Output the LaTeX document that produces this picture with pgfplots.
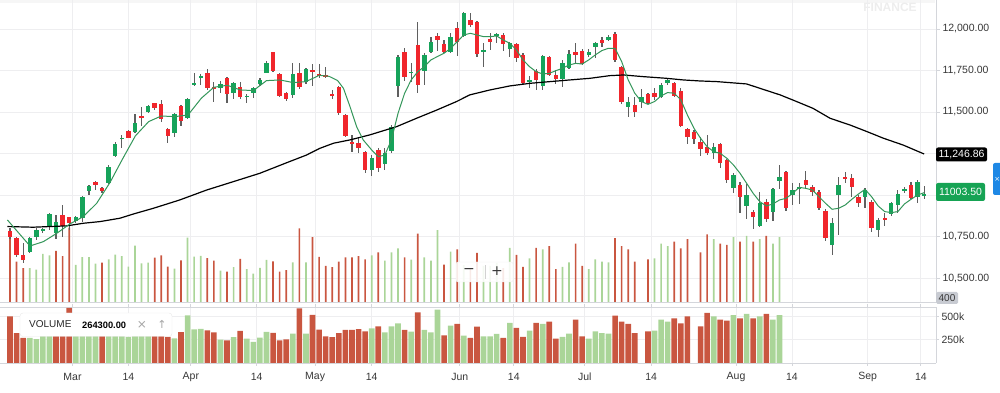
\documentclass[border=0pt]{standalone}
\usepackage{pgfplots}
\pgfplotsset{compat=1.18}
\usepackage{pgfplotstable}
\usepackage{fontspec}
\setmainfont{Liberation Sans}
\newfontfamily\dejavu{DejaVu Sans}
\definecolor{upc}{RGB}{22,163,90}
\definecolor{dnc}{RGB}{240,38,44}
\definecolor{wick}{RGB}{95,95,95}
\definecolor{volr}{RGB}{201,86,64}
\definecolor{volg}{RGB}{170,213,152}
\definecolor{mag}{RGB}{52,150,90}
\definecolor{gridc}{RGB}{238,238,240}
\definecolor{axisc}{RGB}{212,214,219}
\definecolor{labc}{RGB}{55,55,55}
\definecolor{lblgreen}{RGB}{22,163,84}
\definecolor{tabblue}{RGB}{30,136,229}

\pgfplotstableread{
i O H L C
3 10659 10749 10649 10739
4 10749 10800 10729 10790
5 10784 10800 10773 10794
6 10814 10890 10790 10884
7 10773 10880 10733 10840
10 10846 10874 10834 10870
11 10860 10994 10840 10990
12 11026 11061 11000 11057
15 11075 11181 11067 11171
16 11235 11322 11231 11306
17 11336 11362 11281 11346
19 11380 11488 11376 11432
21 11502 11543 11496 11537
25 11376 11492 11352 11486
27 11462 11585 11456 11577
28 11661 11737 11657 11673
29 11709 11729 11663 11717
32 11643 11689 11617 11667
34 11617 11683 11577 11673
36 11589 11607 11557 11599
37 11613 11649 11583 11643
38 11669 11703 11657 11693
39 11737 11810 11733 11794
43 11603 11794 11583 11729
45 11683 11767 11669 11759
55 11151 11241 11115 11221
57 11185 11281 11151 11255
58 11265 11422 11255 11408
59 11657 11844 11593 11830
61 11733 11794 11683 11743
63 11749 11854 11663 11844
64 11860 11950 11854 11924
67 11864 11974 11854 11950
69 11958 12101 11950 12095
72 11860 11914 11773 11874
74 11960 11978 11918 11970
76 11880 11924 11834 11914
79 11681 11717 11643 11693
81 11657 11844 11633 11838
84 11699 11814 11653 11798
85 11767 11874 11757 11850
88 11844 11878 11834 11864
89 11894 11924 11824 11914
91 11934 11964 11930 11950
94 11532 11589 11468 11563
96 11563 11637 11522 11589
99 11589 11673 11583 11663
100 11673 11703 11663 11693
107 11251 11312 11215 11292
110 11041 11131 11010 11121
112 10934 11067 10854 11000
114 10816 11020 10810 10950
116 10900 11041 10846 11035
117 11087 11181 11035 11111
119 11000 11075 10940 11030
120 11035 11071 10946 11051
125 10699 10860 10639 10830
126 11000 11111 10759 11061
130 10990 11041 10920 11030
132 10790 10860 10749 10850
134 10886 10960 10874 10950
135 10940 11030 10890 11006
136 11026 11051 11014 11037
138 10990 11091 10950 11081
139 10994 11055 10974 11003.5
}\upT

\pgfplotstableread{
i O H L C
0 10786 10800 10733 10745
1 10739 10745 10629 10639
2 10639 10713 10589 10609
8 10880 10940 10749 10814
9 10866 10870 10790 10830
13 11081 11087 11030 11061
14 11041 11051 11014 11026
18 11386 11392 11342 11346
20 11476 11528 11416 11462
22 11553 11557 11512 11522
23 11549 11573 11442 11458
24 11396 11402 11316 11356
26 11537 11543 11416 11448
30 11737 11759 11633 11643
31 11649 11683 11563 11637
33 11707 11713 11553 11609
35 11649 11683 11577 11589
40 11860 11864 11743 11749
41 11729 11733 11589 11597
42 11613 11623 11569 11577
44 11737 11794 11637 11649
46 11753 11790 11657 11743
47 11729 11790 11703 11717
48 11723 11773 11703 11713
49 11609 11633 11577 11597
50 11653 11659 11482 11492
51 11482 11488 11352 11356
52 11322 11362 11261 11306
53 11316 11348 11255 11281
54 11261 11267 11131 11151
56 11271 11281 11141 11161
60 11864 11884 11689 11709
62 11904 12041 11617 11663
65 11958 11974 11870 11934
66 11908 11934 11854 11860
68 12004 12041 11838 11924
70 12055 12095 12010 12024
71 12045 12051 11834 11850
73 11938 11974 11874 11924
75 11964 11974 11870 11908
77 11910 11918 11804 11824
78 11844 11854 11669 11677
80 11749 11757 11633 11693
82 11830 11838 11717 11723
83 11723 11753 11669 11699
86 11860 11914 11790 11844
87 11870 11878 11781 11790
90 11934 11954 11894 11918
92 11970 11984 11804 11814
93 11773 11777 11549 11563
95 11541 11589 11472 11502
97 11607 11617 11549 11553
98 11617 11643 11573 11593
101 11677 11683 11589 11597
102 11629 11643 11408 11416
103 11396 11402 11308 11352
104 11378 11392 11308 11336
105 11322 11352 11235 11275
106 11292 11362 11241 11255
108 11308 11312 11161 11191
109 11211 11215 11075 11091
111 11061 11081 10890 10986
113 10896 10910 10794 10866
115 10960 10974 10840 10854
118 11141 11147 10906 10920
121 11091 11147 11041 11061
122 11047 11061 10994 11020
123 11020 11030 10910 10920
124 10906 10914 10725 10739
127 11111 11141 11075 11097
128 11101 11127 10990 11051
129 10990 11000 10930 10950
131 10960 10970 10779 10800
133 10864 10890 10814 10850
137 11061 11081 10974 10980
}\dnT

\pgfplotstableread{
i V
3 268
4 257
5 381
6 370
10 294
11 357
12 357
13 304
15 339
16 376
17 365
18 280
19 447
20 307
21 312
25 264
27 510
28 360
29 366
32 250
34 277
36 260
37 226
38 271
39 334
43 314
45 314
55 371
57 329
58 393
59 425
61 336
63 354
64 329
65 571
67 400
69 293
72 286
73 286
74 311
76 429
79 346
81 418
84 279
85 314
88 261
89 339
90 321
91 314
98 346
99 464
100 443
107 500
110 514
112 525
114 500
116 464
117 514
}\volG

\pgfplotstableread{
i V
0 500
1 321
2 268
7 405
8 365
9 590
14 312
22 352
23 370
24 280
26 330
30 349
31 329
33 242
35 343
40 323
41 242
42 252
44 584
46 515
47 358
48 286
49 277
50 321
51 354
52 354
53 364
54 339
56 393
60 354
62 543
66 296
68 418
70 268
71 389
75 268
77 375
78 279
80 429
82 443
83 261
86 464
87 286
92 507
93 443
94 418
95 321
97 339
101 479
102 425
103 500
105 393
106 536
108 464
109 454
111 479
113 479
115 525
}\volR

\pgfplotsset{
  mainpane/.style={at={(0pt,91pt)}, anchor=south west, scale only axis,
    width=936pt, height=302pt, xmin=-1.52, xmax=140.8},
  datexticks/.style={xtick={9.5,18,27.5,37.5,46.4,55,68.4,76.6,87.4,97.5,110.4,118.9,130.4,138.5}},
}

\begin{document}
\begin{tikzpicture}[x=1pt,y=1pt]
\useasboundingbox (0,0) rectangle (1000,393);
\fill[gray!7] (0,390) rectangle (935,393);
\node[text=gray!14, font=\bfseries\fontsize{12}{13}\selectfont, anchor=north, inner sep=0pt] at (890,390.5) {FINANCE};

% grid and price scale
\begin{axis}[mainpane, ymin=10355.5, ymax=12174.7,
  axis x line*=bottom, axis y line*=right,
  axis line style={draw=axisc, line width=0.8pt},
  datexticks, xticklabels={}, xtick style={draw=none},
  ytick={10500,10750,11000,11250,11500,11750,12000},
  yticklabels={{10,500.00},{10,750.00},{},{},{11,500.00},{11,750.00},{12,000.00}},
  ytick style={draw=axisc, line width=0.8pt},
  major tick length=4pt, tick align=outside,
  grid=major, major grid style={draw=gridc, line width=0.8pt},
  yticklabel style={font=\fontsize{10.5}{12}\selectfont, text=labc, anchor=west, xshift=-1pt}]
\addplot[draw=none] coordinates {(0,11000)};
\end{axis}

% volume overlay in the price pane
\begin{axis}[mainpane, ymin=0, ymax=2397, hide axis]
\addplot[ybar, bar width=1.7pt, bar shift=0pt, fill=volg, draw=none] table[x=i,y=V] {\volG};
\addplot[ybar, bar width=1.7pt, bar shift=0pt, fill=volr, draw=none] table[x=i,y=V] {\volR};
\end{axis}

% candles and moving averages
\begin{axis}[mainpane, ymin=10355.5, ymax=12174.7, hide axis]
\addplot[draw=none, mark=none, error bars/.cd, y dir=both, y explicit, error mark=none,
  error bar style={line width=1.2pt, draw=wick}]
  table[x=i, y expr={(\thisrow{H}+\thisrow{L})/2}, y error expr={(\thisrow{H}-\thisrow{L})/2}] {\upT};
\addplot[draw=none, mark=none, error bars/.cd, y dir=both, y explicit, error mark=none,
  error bar style={line width=1.2pt, draw=wick}]
  table[x=i, y expr={(\thisrow{H}+\thisrow{L})/2}, y error expr={(\thisrow{H}-\thisrow{L})/2}] {\dnT};
\addplot[draw=none, mark=none, error bars/.cd, y dir=both, y explicit, error mark=none,
  error bar style={line width=4.4pt, draw=upc}]
  table[x=i, y expr={(\thisrow{O}+\thisrow{C})/2}, y error expr={max(abs(\thisrow{C}-\thisrow{O})/2,4)}] {\upT};
\addplot[draw=none, mark=none, error bars/.cd, y dir=both, y explicit, error mark=none,
  error bar style={line width=4.4pt, draw=dnc}]
  table[x=i, y expr={(\thisrow{O}+\thisrow{C})/2}, y error expr={max(abs(\thisrow{C}-\thisrow{O})/2,4)}] {\dnT};
% long moving average
\addplot[black, line width=1.2pt, mark=none] coordinates {
(-0.4,10810) (3.5,10806) (8.6,10814) (11.2,10830) (13.7,10840) (16.7,10860) (18.8,10886)
(21.8,10920) (25.8,10970) (29.9,11030) (34,11081) (38,11131) (42.1,11195) (45.1,11241)
(47.1,11281) (49.2,11312) (51.7,11332) (54.7,11362) (58.8,11412) (61.8,11462) (64.9,11512)
(67.9,11563) (69.9,11603) (73,11633) (76,11657) (79.1,11673) (82.1,11683) (85.1,11693)
(88.2,11703) (91.2,11719) (93.3,11723) (96.3,11713) (99.8,11703) (102.4,11693) (104.9,11687)
(107.5,11683) (112,11669) (114,11643) (117.1,11603) (119.6,11563) (122.1,11522) (124.7,11462)
(127.7,11422) (130.3,11382) (132.8,11342) (135.8,11301) (139,11246.86)};
% short moving average
\addplot[mag, line width=1pt, mark=none] coordinates {
(-0.4,10850) (3.04,10693) (5.07,10719) (7.1,10769) (9.12,10826) (11.15,10870) (13.18,10950)
(15.2,11075) (17.03,11211) (19.06,11356) (21.08,11442) (23,11476) (25.04,11472) (27.07,11482)
(29.09,11583) (31,11649) (33.05,11661) (35,11633) (37,11629) (39,11689) (41.05,11693)
(43.08,11677) (45,11683) (47.03,11721) (48.5,11715) (49.8,11690) (50.7,11643) (51.7,11532)
(52.7,11412) (53.7,11332) (55,11271) (56,11231) (57,11241) (58,11332) (59,11492) (60,11613)
(61,11693) (62,11743) (63,11773) (64,11814) (65,11834) (66,11854) (67,11884) (68,11924)
(69,11964) (70,11974) (71,11964) (72,11954) (73,11954) (74,11958) (75,11934) (76,11914)
(77,11874) (78,11814) (79,11773) (80,11743) (81,11729) (82,11733) (83,11749) (84,11763)
(85,11783) (86,11793) (87,11789) (88,11814) (89,11844) (90,11870) (91,11884) (92,11884)
(93,11804) (94,11693) (95,11613) (96,11563) (97,11546) (98,11563) (99,11597) (100,11617)
(101,11613) (102,11573) (103,11482) (104,11402) (105,11342) (106,11291) (107,11261)
(108,11251) (109,11221) (110,11181) (111,11131) (112,11071) (113,11010) (114,10960)
(115,10934) (116,10946) (117,10970) (118,10980) (119,11010) (120,11046) (121,11040)
(122,11030) (123,10990) (124,10950) (125,10914) (126,10920) (127,10940) (128,10974)
(129,11006) (130,11034) (131,10990) (132,10934) (133,10900) (134,10894) (135,10900)
(136,10946) (137,10974) (138,11000) (139,11014)};
\end{axis}

% lower volume pane
\begin{axis}[at={(0pt,30pt)}, anchor=south west, scale only axis,
  width=936pt, height=56pt, xmin=-1.52, xmax=140.8, ymin=0, ymax=600,
  axis x line*=box, axis y line*=right,
  axis line style={draw=axisc, line width=0.8pt},
  datexticks, xticklabels={Mar,14,Apr,14,May,14,Jun,14,Jul,14,Aug,14,Sep,14},
  ytick={250,500}, yticklabels={250k,500k},
  tick style={draw=axisc, line width=0.8pt},
  major tick length=3pt, tick align=outside,
  grid=major, major grid style={draw=gridc, line width=0.8pt},
  xticklabel style={font=\fontsize{10.5}{12}\selectfont, text=labc, anchor=center, yshift=-11pt},
  yticklabel style={font=\fontsize{10.5}{12}\selectfont, text=labc, anchor=west, xshift=-1pt}]
\addplot[ybar, bar width=5.6pt, bar shift=0pt, fill=volg, draw=none] table[x=i,y=V] {\volG};
\addplot[ybar, bar width=5.6pt, bar shift=0pt, fill=volr, draw=none] table[x=i,y=V] {\volR};
\end{axis}

% overlays
\node[fill=black, text=white, rounded corners=2pt, inner sep=0pt, minimum width=51pt, minimum height=14pt,
  font=\fontsize{10.5}{12}\selectfont] at (961.5,238.5) {11,246.86};
\node[fill=lblgreen, text=white, rounded corners=2pt, inner sep=0pt, minimum width=49pt, minimum height=18pt,
  font=\fontsize{10.5}{12}\selectfont] at (960.5,201) {11003.50};
\fill[tabblue, rounded corners=2pt] (993,198) rectangle (1004,230);
\node[text=white, font=\dejavu\fontsize{7}{8}\selectfont, inner sep=0pt] at (997.2,214) {×};
\node[fill={rgb,255:red,200;green,203;blue,210}, text=labc, rounded corners=1.5pt, inner sep=0pt,
  minimum width=22pt, minimum height=12pt, font=\fontsize{10}{11}\selectfont] at (947,95) {400};

% zoom control
\node[fill=white, fill opacity=0.88, rounded corners=2pt, minimum width=57pt, minimum height=20pt,
  draw=gray!12] at (484.5,121) {};
\node[text=labc, font=\dejavu\fontsize{14}{14}\selectfont] at (469,121.5) {−};
\draw[gray!35, line width=0.8pt] (485,114) -- (485,128);
\node[text=labc, font=\dejavu\fontsize{14}{14}\selectfont] at (497,121.5) {+};

% volume legend box
\draw[fill=white, draw=gray!18, rounded corners=3pt] (20,56.5) rectangle (172,80);
\node[anchor=west, text={rgb,255:red,40;green,40;blue,40}, font=\fontsize{10}{11}\selectfont, inner sep=0pt] at (29,68.5) {VOLUME};
\node[anchor=west, text=black, font=\bfseries\fontsize{9.3}{10}\selectfont, inner sep=0pt] at (82,67.5) {264300.00};
\node[text=gray!70, font=\dejavu\fontsize{12}{12}\selectfont] at (142,68.5) {×};
\node[text=gray!70, font=\dejavu\fontsize{11}{12}\selectfont] at (162,68.5) {↑};
\end{tikzpicture}
\end{document}
